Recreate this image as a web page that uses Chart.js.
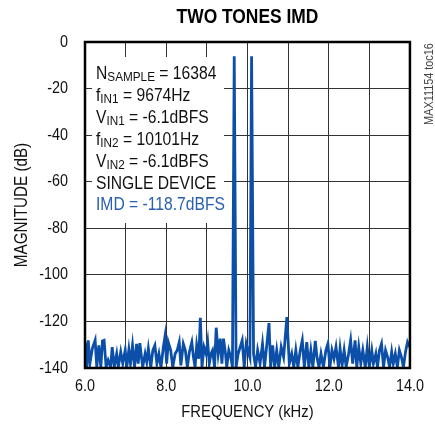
<!DOCTYPE html>
<html><head><meta charset="utf-8">
<script src="https://cdn.jsdelivr.net/npm/chart.js@4.4.1/dist/chart.umd.min.js"></script>
<style>html,body{margin:0;padding:0;background:#fff;overflow:hidden}#wrap{width:435px;height:431px;position:relative}</style>
</head><body><div id="wrap"><canvas id="c" width="435" height="431"></canvas></div>
<script>
// ---- data ----
const freqKHz = [6.00,6.04,6.08,6.12,6.18,6.25,6.29,6.34,6.39,6.43,6.47,6.52,6.57,6.63,6.67,6.72,6.78,6.82,6.88,6.93,6.99,7.03,7.08,7.12,7.17,7.22,7.27,7.31,7.35,7.42,7.48,7.52,7.56,7.62,7.67,7.72,7.77,7.82,7.87,7.93,7.97,8.01,8.05,8.11,8.16,8.22,8.27,8.32,8.36,8.42,8.47,8.52,8.57,8.63,8.67,8.71,8.75,8.80,8.84,8.88,8.93,8.98,9.02,9.06,9.10,9.14,9.19,9.23,9.28,9.33,9.37,9.41,9.46,9.49,9.54,9.59,9.63,9.674,9.72,9.77,9.82,9.87,9.92,9.97,10.01,10.06,10.101,10.15,10.20,10.25,10.31,10.37,10.42,10.47,10.53,10.57,10.62,10.67,10.72,10.77,10.83,10.89,10.97,11.03,11.09,11.14,11.19,11.24,11.30,11.35,11.40,11.46,11.51,11.56,11.61,11.67,11.71,11.76,11.81,11.87,11.93,11.98,12.03,12.08,12.13,12.18,12.24,12.28,12.33,12.38,12.43,12.49,12.54,12.59,12.65,12.69,12.74,12.79,12.84,12.90,12.95,13.00,13.06,13.10,13.16,13.20,13.25,13.30,13.35,13.40,13.45,13.50,13.55,13.59,13.64,13.69,13.74,13.79,13.84,13.89,13.94,13.99];
const magnitudeDB = [-128.9,-139.6,-128.1,-138.1,-131.7,-128.1,-139.6,-130.3,-139.6,-128.4,-128.1,-139.6,-136.7,-139.6,-131.0,-139.6,-133.9,-139.6,-133.1,-138.1,-132.4,-139.6,-132.1,-138.1,-130.3,-139.6,-129.6,-138.1,-129.3,-139.6,-133.9,-137.4,-131.7,-139.6,-132.4,-130.3,-138.1,-133.9,-139.6,-131.0,-126.4,-138.1,-128.9,-132.4,-139.6,-133.9,-132.4,-128.9,-138.9,-129.6,-132.4,-139.6,-133.1,-128.9,-135.3,-139.6,-130.3,-136.0,-118.4,-139.6,-131.0,-133.9,-128.9,-138.1,-133.9,-132.4,-139.6,-122.7,-133.9,-127.4,-138.1,-127.4,-133.9,-139.6,-132.4,-135.3,-139.6,-6.1,-139.6,-133.9,-131.0,-128.1,-139.6,-129.6,-132.4,-135.5,-6.1,-133.9,-139.6,-132.4,-138.1,-129.6,-139.6,-131.0,-120.7,-139.6,-130.3,-139.6,-132.4,-139.6,-131.0,-135.3,-118.1,-138.1,-133.9,-139.6,-132.4,-139.6,-132.4,-128.1,-139.6,-128.9,-139.6,-132.4,-139.6,-128.4,-135.3,-139.6,-133.9,-139.6,-132.4,-129.6,-139.6,-132.4,-136.0,-131.0,-139.6,-131.7,-138.9,-132.4,-139.6,-133.9,-128.1,-138.1,-128.1,-139.6,-131.0,-138.1,-132.4,-139.6,-131.0,-139.6,-132.4,-138.1,-133.9,-139.6,-132.4,-129.6,-139.6,-132.4,-135.3,-139.6,-133.1,-138.1,-133.9,-139.6,-132.4,-135.3,-139.6,-133.1,-128.9,-131.0];
const xTickValues = [6, 8, 10, 12, 14];
const yTickValues = [0, -20, -40, -60, -80, -100, -120, -140];
const chartTitle = 'TWO TONES IMD';
const xAxisTitle = 'FREQUENCY (kHz)';
const yAxisTitle = 'MAGNITUDE (dB)';
const sideLabel = 'MAX11154 toc16';
const annotationLines = [
  [['N'], ['SAMPLE', 1], [' = 16384']],
  [['f'], ['IN1', 1], [' = 9674Hz']],
  [['V'], ['IN1', 1], [' = -6.1dBFS']],
  [['f'], ['IN2', 1], [' = 10101Hz']],
  [['V'], ['IN2', 1], [' = -6.1dBFS']],
  [['SINGLE DEVICE']],
  [['IMD = -118.7dBFS']]
];

// ---- condensed text rendering ----
const SX = 0.87;
const FONT = "'Liberation Sans', Arial, sans-serif";
const canvas = document.getElementById('c');
const ctx0 = canvas.getContext('2d');
const origFill = ctx0.fillText;
ctx0.fillText = function (t, x, y) {
  this.save(); this.translate(x, y); this.scale(SX, 1);
  origFill.call(this, t, 0, 0);
  this.restore();
};

const LINE_BLUE = '#0b4fa8';

const overlay = {
  id: 'overlay',
  beforeDatasetsDraw(chart) {
    const { ctx, chartArea: a } = chart;
    ctx.save();
    ctx.fillStyle = '#fff';
    ctx.fillRect(a.left + 7, a.top + 15, 132, 166);
    let y = a.top + 37;
    ctx.textBaseline = 'alphabetic';
    ctx.textAlign = 'left';
    annotationLines.forEach((line, i) => {
      let x = a.left + 11;
      ctx.fillStyle = i === annotationLines.length - 1 ? '#2a60b0' : '#111';
      line.forEach(([t, sub]) => {
        ctx.font = (sub ? '13.5px ' : '18px ') + FONT;
        ctx.fillText(t, x, sub ? y + 2 : y);
        x += ctx.measureText(t).width * SX;
      });
      y += 21.9;
    });
    ctx.restore();
  },
  afterDraw(chart) {
    const { ctx, chartArea: a } = chart;
    ctx.save();
    ctx.strokeStyle = '#000';
    ctx.lineWidth = 2.5;
    ctx.strokeRect(a.left, a.top, a.right - a.left, a.bottom - a.top);
    ctx.fillStyle = '#000';
    ctx.textAlign = 'center';
    ctx.textBaseline = 'alphabetic';
    ctx.font = 'bold 20px ' + FONT;
    ctx.fillText(chartTitle, (a.left + a.right) / 2, 23);
    ctx.translate(a.right + 20, a.top + 42);
    ctx.rotate(-Math.PI / 2);
    ctx.font = '12.5px ' + FONT;
    ctx.fillStyle = '#444';
    ctx.textBaseline = 'middle';
    ctx.fillText(sideLabel, 0, 0);
    ctx.restore();
  }
};

new Chart(ctx0, {
  type: 'line',
  data: {
    datasets: [{
      data: freqKHz.map((f, i) => ({ x: f, y: magnitudeDB[i] })),
      borderColor: LINE_BLUE,
      borderWidth: 2.8,
      pointRadius: 0,
      tension: 0,
      fill: false,
      borderJoinStyle: 'miter'
    }]
  },
  options: {
    responsive: false,
    animation: false,
    layout: { padding: { top: 42, right: 25, left: 0, bottom: 0 } },
    plugins: { legend: { display: false }, tooltip: { enabled: false }, title: { display: false } },
    scales: {
      x: {
        type: 'linear', min: 6, max: 14,
        afterFit(s) { s.height = 63; },
        afterBuildTicks(s) { const t = []; for (let v = 6; v <= 14; v++) t.push({ value: v }); s.ticks = t; },
        ticks: {
          autoSkip: false, maxRotation: 0, padding: 9, color: '#111',
          font: { family: FONT, size: 16.5 },
          callback: v => xTickValues.includes(v) ? v.toFixed(1) : ''
        },
        grid: { color: '#333', lineWidth: 1, drawTicks: false },
        border: { display: false },
        title: { display: true, text: xAxisTitle, color: '#111', font: { family: FONT, size: 17 }, padding: { top: 0, bottom: 8 } }
      },
      y: {
        min: -140, max: 0,
        afterFit(s) { s.width = 85; },
        afterBuildTicks(s) { s.ticks = yTickValues.map(v => ({ value: v })); },
        ticks: { padding: 17, color: '#111', font: { family: FONT, size: 16.5 } },
        grid: { color: '#333', lineWidth: 1, drawTicks: false },
        border: { display: false },
        title: { display: true, text: yAxisTitle, color: '#111', font: { family: FONT, size: 17.5 }, padding: { top: 12, bottom: 0 } }
      }
    }
  },
  plugins: [overlay]
});
</script>
</body></html>
